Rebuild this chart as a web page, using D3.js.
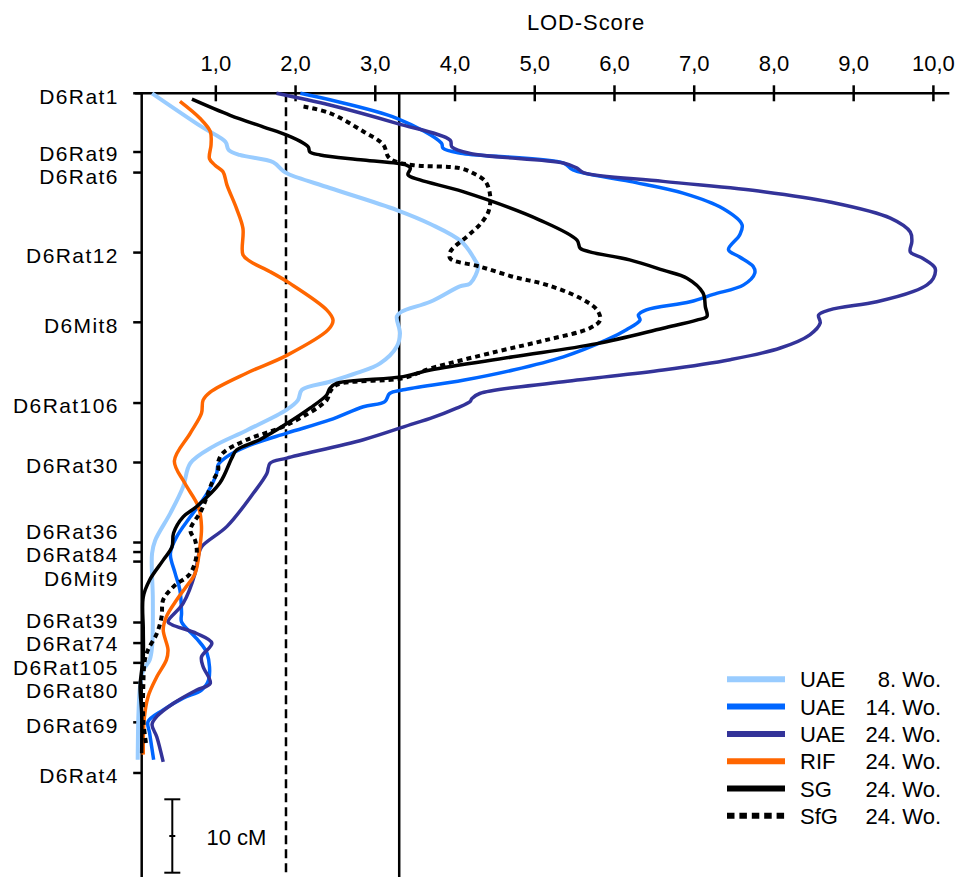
<!DOCTYPE html>
<html>
<head>
<meta charset="utf-8">
<script src="https://cdn.jsdelivr.net/npm/d3@7"></script>
<style>
  body { margin: 0; background: #fff; }
  svg { display: block; }
  text { font-family: "Liberation Sans", Arial, sans-serif; fill: #000; }
</style>
</head>
<body>
<svg id="chart" width="955" height="877"></svg>
<script>
// Marker map of chromosome 6 (position in cM from D6Rat1)
const markerNames = ["D6Rat1","D6Rat9","D6Rat6","D6Rat12","D6Mit8","D6Rat106","D6Rat30",
  "D6Rat36","D6Rat84","D6Mit9","D6Rat39","D6Rat74","D6Rat105","D6Rat80","D6Rat69","D6Rat4"];
const markerPos = [0, 8.0, 10.8, 21.7, 31.2, 42.2, 50.3, 61.2, 62.5, 63.8, 72.1, 74.9, 77.6, 80.3, 85.7, 92.6];

// LOD tick values on the top axis
const lodTicks = [1, 2, 3, 4, 5, 6, 7, 8, 9, 10];

// Significance thresholds (suggestive / significant)
const suggestiveLOD = 1.88;
const significantLOD = 3.3;

// LOD profiles: [position cM, LOD]
const uae8 = [[0,0.20],[4.55,0.82],[6.6,1.12],[7.7,1.16],[8.4,1.30],[9.4,1.72],[10.45,1.83],[11.0,1.91],
  [12.9,2.43],[15.9,3.27],[17.8,3.69],[20.2,4.08],[22.7,4.25],[23.6,4.29],[25.9,4.19],[26.3,4.06],
  [28.4,3.69],[29.75,3.33],[30.4,3.27],[32.7,3.31],[34.5,3.27],[36.8,3.06],[38.1,2.77],[39.3,2.43],
  [40.4,2.08],[41.8,2.03],[43.1,1.89],[45.9,1.39],[48.1,0.97],[50.4,0.68],[53.6,0.59],[57.2,0.43],
  [60.9,0.24],[62.7,0.20],[69.0,0.21],[75.4,0.20],[77.2,0.17],[78.6,0.09],[80.8,0.05],[84.4,0.03],[90.8,0.02]];

const uae14 = [[0,2.06],[3.4,3.27],[6.8,3.83],[7.5,3.85],[8.2,4.10],[9.5,5.36],[10.45,5.48],[12.0,6.19],
  [13.6,6.86],[15.7,7.36],[17.9,7.60],[19.3,7.57],[21.3,7.43],[22.3,7.57],[23.6,7.74],[24.5,7.76],
  [26.1,7.62],[27.4,7.24],[28.4,6.95],[29.5,6.40],[30.2,6.30],[30.9,6.32],[32.2,6.15],[33.6,5.90],
  [35.9,5.36],[37.7,4.73],[39.1,4.10],[40.4,3.35],[40.9,3.18],[42.0,3.12],[42.7,2.85],[44.5,2.43],
  [46.3,1.89],[48.1,1.39],[49.5,1.14],[50.6,1.03],[51.8,1.01],[54.5,0.89],[57.7,0.68],[60.4,0.51],
  [62.7,0.43],[65.4,0.49],[67.7,0.55],[70.8,0.57],[72.0,0.57],[74.3,0.76],[76.3,0.89],[79.9,0.91],
  [81.3,0.82],[82.4,0.59],[84.0,0.34],[85.6,0.15],[87.2,0.17],[90.8,0.22]];

const uae24 = [[0,1.76],[1.6,2.43],[4.1,3.27],[6.4,3.94],[7.3,3.96],[8.2,4.19],[9.5,5.36],[10.2,5.53],
  [10.8,5.61],[12.0,6.61],[13.4,7.87],[14.8,8.70],[17.0,9.46],[18.9,9.71],[20.2,9.73],[21.6,9.71],
  [22.5,9.87],[23.8,10.02],[25.2,10.00],[26.1,9.92],[27.0,9.75],[28.4,9.29],[29.5,8.70],[30.2,8.56],
  [31.3,8.58],[32.9,8.45],[34.7,8.08],[36.3,7.45],[37.7,6.61],[39.3,5.36],[40.9,4.31],[41.6,4.21],
  [42.0,4.19],[42.9,4.02],[44.3,3.69],[45.0,3.48],[47.2,2.85],[49.7,1.89],[50.4,1.68],[51.8,1.64],
  [54.5,1.47],[59.0,1.14],[61.8,0.82],[63.1,0.78],[65.4,0.74],[69.5,0.59],[72.0,0.40],[72.4,0.45],
  [73.6,0.76],[74.9,0.95],[76.8,0.82],[78.1,0.84],[80.4,0.93],[81.3,0.76],[83.1,0.47],[84.9,0.26],
  [86.0,0.20],[87.7,0.26],[91.1,0.34]];

const rif = [[1.1,0.55],[3.4,0.80],[5.2,0.93],[7.0,0.94],[8.9,0.92],[9.8,0.99],[10.7,1.09],[12.5,1.14],
  [15.7,1.26],[18.4,1.34],[22.0,1.34],[22.9,1.43],[24.3,1.68],[25.9,1.93],[29.5,2.39],[30.9,2.47],
  [32.2,2.41],[35.7,1.89],[38.1,1.39],[40.7,0.93],[41.8,0.84],[43.6,0.82],[46.3,0.68],[50.1,0.48],
  [53.1,0.61],[56.3,0.78],[59.0,0.82],[61.8,0.80],[65.4,0.74],[67.2,0.63],[69.0,0.51],[71.3,0.38],
  [73.1,0.34],[75.8,0.40],[77.2,0.38],[79.5,0.26],[82.2,0.15],[85.4,0.10],[90.1,0.09]];

const sg = [[0.8,0.70],[3.0,1.18],[4.6,1.60],[5.7,1.89],[6.8,2.10],[7.3,2.16],[8.0,2.18],[8.4,2.31],
  [9.1,2.85],[9.8,3.39],[10.2,3.44],[11.1,3.41],[11.8,3.56],[13.4,4.10],[17.3,5.07],[20.0,5.53],
  [21.1,5.57],[21.6,5.69],[22.7,6.19],[24.1,6.61],[25.2,6.91],[27.2,7.11],[29.1,7.14],[30.4,7.16],
  [30.9,7.03],[32.0,6.61],[34.1,5.78],[35.9,4.73],[37.7,3.69],[38.6,3.35],[39.5,2.52],[40.2,2.43],
  [41.1,2.39],[42.9,2.18],[45.0,1.89],[47.2,1.55],[48.6,1.26],[49.7,1.20],[53.1,1.05],[56.3,0.76],
  [57.7,0.59],[59.9,0.47],[61.8,0.45],[63.6,0.34],[66.3,0.17],[68.6,0.09],[73.1,0.09],[76.8,0.09],
  [78.6,0.07],[80.8,0.05],[84.5,0.07],[89.9,0.07]];

const sfg = [[1.8,2.10],[2.7,2.43],[5.2,2.85],[7.0,3.10],[8.6,3.16],[9.2,3.23],[9.8,3.48],[10.2,4.06],
  [10.9,4.23],[12.0,4.38],[13.9,4.44],[16.1,4.42],[17.9,4.31],[19.5,4.15],[21.6,3.94],[22.5,3.94],
  [23.6,4.31],[25.0,4.73],[26.1,5.15],[27.9,5.57],[29.5,5.78],[30.9,5.82],[32.0,5.69],[33.6,5.15],
  [35.2,4.52],[37.5,3.69],[38.8,3.35],[39.7,2.52],[40.7,2.43],[41.8,2.39],[45.2,1.89],[47.2,1.39],
  [49.0,1.09],[50.2,1.03],[51.3,1.03],[53.1,0.95],[56.8,0.82],[59.5,0.68],[60.9,0.74],[62.7,0.76],
  [65.4,0.68],[67.2,0.47],[69.0,0.34],[71.3,0.32],[73.6,0.26],[75.8,0.15],[77.2,0.11],[80.8,0.09],
  [85.4,0.09],[89.0,0.13]];

const seriesNames = ["UAE", "UAE", "UAE", "RIF", "SG", "SfG"];
const seriesAges = ["8. Wo.", "14. Wo.", "24. Wo.", "24. Wo.", "24. Wo.", "24. Wo."];
const seriesData = [uae8, uae14, uae24, rif, sg, sfg];
const seriesColors = ["#99ccff", "#0066ff", "#333399", "#ff6600", "#000000", "#000000"];

// ---- layout ----
const svg = d3.select("#chart");
const FONT = 22;
const x = d3.scaleLinear().domain([0, 10]).range([136.1, 933.4]);
const y = d3.scaleLinear().domain([0, 10]).range([93.3, 166.7]);   // 7.34 px per cM
const axisTop = y(0);
const axisLeftX = 141.7;
const bottom = 877;

const comma = d3.formatLocale({decimal: ",", thousands: ".", grouping: [3], currency: ["", "€"]}).format(".1f");

// Top LOD axis
svg.append("line")
  .attr("x1", x(0) - 1).attr("x2", x(10.2))
  .attr("y1", axisTop).attr("y2", axisTop)
  .attr("stroke", "#000").attr("stroke-width", 2.5);

const gx = svg.append("g");
gx.selectAll("line.tick").data(lodTicks).join("line")
  .attr("x1", d => x(d)).attr("x2", d => x(d))
  .attr("y1", axisTop - 8).attr("y2", axisTop + 8)
  .attr("stroke", "#000").attr("stroke-width", 2.5);
gx.selectAll("text").data(lodTicks).join("text")
  .attr("x", d => x(d)).attr("y", 71)
  .attr("text-anchor", "middle").attr("font-size", FONT)
  .text(d => comma(d));

svg.append("text")
  .attr("x", 586).attr("y", 29.5)
  .attr("text-anchor", "middle").attr("font-size", FONT)
  .attr("letter-spacing", 0.9)
  .text("LOD-Score");

// Left marker axis
svg.append("line")
  .attr("x1", axisLeftX).attr("x2", axisLeftX)
  .attr("y1", axisTop).attr("y2", bottom)
  .attr("stroke", "#000").attr("stroke-width", 2.5);

svg.append("g").selectAll("line").data(markerPos).join("line")
  .attr("x1", axisLeftX - 8.5).attr("x2", axisLeftX)
  .attr("y1", d => y(d)).attr("y2", d => y(d))
  .attr("stroke", "#000").attr("stroke-width", 2.5);

// spread crowded marker labels apart
const LABEL_FONT = 21;
const minGap = 23.5;
const labelY = markerPos.map(d => y(d));
for (let iter = 0; iter < 300; iter++) {
  let moved = false;
  for (let i = 1; i < labelY.length; i++) {
    const gap = labelY[i] - labelY[i - 1];
    if (gap < minGap - 0.01) {
      const push = (minGap - gap) / 2;
      labelY[i - 1] -= push; labelY[i] += push; moved = true;
    }
  }
  if (!moved) break;
}
svg.append("g").selectAll("text").data(markerNames).join("text")
  .attr("x", 118.8).attr("y", (d, i) => labelY[i] + 10.2)
  .attr("text-anchor", "end").attr("font-size", LABEL_FONT)
  .attr("letter-spacing", 1.4)
  .text(d => d);

// Threshold lines
svg.append("line")
  .attr("x1", x(suggestiveLOD)).attr("x2", x(suggestiveLOD))
  .attr("y1", axisTop).attr("y2", bottom)
  .attr("stroke", "#000").attr("stroke-width", 2.5).attr("stroke-dasharray", "9,5");
svg.append("line")
  .attr("x1", x(significantLOD)).attr("x2", x(significantLOD))
  .attr("y1", axisTop).attr("y2", bottom)
  .attr("stroke", "#000").attr("stroke-width", 2.5);

// LOD profiles
const line = d3.line()
  .x(d => x(d[1])).y(d => y(d[0]))
  .curve(d3.curveCatmullRom.alpha(0.5));

svg.append("g").selectAll("path").data(seriesData).join("path")
  .attr("d", d => line(d))
  .attr("fill", "none")
  .attr("stroke", (d, i) => seriesColors[i])
  .attr("stroke-width", (d, i) => i === 0 ? 4 : (i === 5 ? 4 : 3.5))
  .attr("stroke-dasharray", (d, i) => i === 5 ? "5,4" : null)
  .attr("stroke-linejoin", "round");

// 10 cM scale bar
const barX = 172.3, barTop = 799.3;
const barLen = y(10) - y(0);
const bar = svg.append("g").attr("stroke", "#000").attr("stroke-width", 2);
bar.append("line").attr("x1", barX).attr("x2", barX).attr("y1", barTop).attr("y2", barTop + barLen);
bar.append("line").attr("x1", barX - 8).attr("x2", barX + 8).attr("y1", barTop).attr("y2", barTop);
bar.append("line").attr("x1", barX - 8).attr("x2", barX + 8).attr("y1", barTop + barLen).attr("y2", barTop + barLen);
bar.append("line").attr("x1", barX - 3).attr("x2", barX + 3).attr("y1", barTop + barLen / 2).attr("y2", barTop + barLen / 2);
svg.append("text").attr("x", 206.5).attr("y", barTop + barLen / 2 + 8.5)
  .attr("font-size", FONT).text("10 cM");

// Legend
const legend = svg.append("g");
const rowH = 27.3, legTop = 679.3;
seriesNames.forEach((name, i) => {
  const ly = legTop + i * rowH;
  legend.append("line")
    .attr("x1", 727).attr("x2", 785)
    .attr("y1", ly).attr("y2", ly)
    .attr("stroke", seriesColors[i]).attr("stroke-width", 6)
    .attr("stroke-dasharray", i === 5 ? "7.5,4.9" : null);
  legend.append("text").attr("x", 800).attr("y", ly + 8)
    .attr("font-size", FONT).text(name);
  legend.append("text").attr("x", 941).attr("y", ly + 8)
    .attr("text-anchor", "end").attr("font-size", FONT).text(seriesAges[i]);
});
</script>
</body>
</html>
